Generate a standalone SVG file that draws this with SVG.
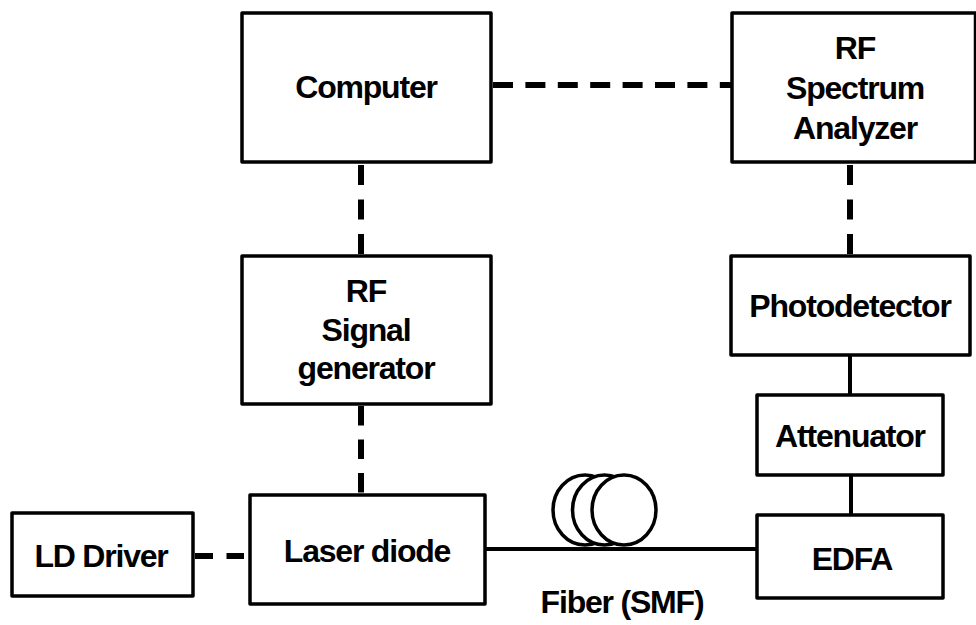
<svg xmlns="http://www.w3.org/2000/svg" width="976" height="625" viewBox="0 0 976 625">
<style>
.box{fill:#fff;stroke:#000;stroke-width:3.5;stroke-linejoin:round}
.lbl{font-family:"Liberation Sans",Arial,sans-serif;font-weight:bold;font-size:32px;letter-spacing:-1.2px;fill:#000;text-anchor:middle}
.dash{stroke:#000;stroke-width:6;fill:none}
.solid{stroke:#000;stroke-width:4;fill:none}
.coil{fill:#fff;stroke:#000;stroke-width:3.5}
</style>
<rect width="976" height="625" fill="#fff"/>
<g id="connectors">
<line class="dash" x1="493" y1="85" x2="738" y2="85" stroke-dasharray="20 12.4" stroke-width="7"/>
<line class="dash" x1="361" y1="165" x2="361" y2="255" stroke-dasharray="20 14.5"/>
<line class="dash" x1="850" y1="165" x2="850" y2="255" stroke-dasharray="20 14.5"/>
<line class="dash" x1="361" y1="406" x2="361" y2="494" stroke-dasharray="19.5 14"/>
<line class="dash" x1="195" y1="556" x2="244" y2="556" stroke-dasharray="18 13.5" stroke-width="7"/>
<line class="solid" x1="850" y1="356" x2="850" y2="394"/>
<line class="solid" x1="851" y1="476" x2="851" y2="514"/>
<line class="solid" x1="486" y1="549" x2="756" y2="549"/>
</g>
<g id="fiber">
<ellipse class="coil" cx="585" cy="510" rx="32" ry="35"/>
<ellipse class="coil" cx="604.5" cy="510" rx="32" ry="35"/>
<ellipse class="coil" cx="624" cy="510" rx="32" ry="35"/>
<text class="lbl" x="622" y="613">Fiber (SMF)</text>
</g>
<g id="computer">
<rect class="box" x="242" y="13" width="249" height="149"/>
<text class="lbl" x="366" y="98">Computer</text>
</g>
<g id="spectrum-analyzer">
<rect class="box" x="732" y="13" width="243.5" height="149"/>
<text class="lbl" x="855" y="59">RF</text>
<text class="lbl" x="855" y="99">Spectrum</text>
<text class="lbl" x="855" y="139">Analyzer</text>
</g>
<g id="signal-generator">
<rect class="box" x="242" y="256" width="249" height="148"/>
<text class="lbl" x="366" y="302">RF</text>
<text class="lbl" x="366" y="341">Signal</text>
<text class="lbl" x="366" y="379">generator</text>
</g>
<g id="photodetector">
<rect class="box" x="731" y="256" width="239" height="99"/>
<text class="lbl" x="850" y="317">Photodetector</text>
</g>
<g id="attenuator">
<rect class="box" x="757" y="395" width="186" height="80"/>
<text class="lbl" x="850" y="447">Attenuator</text>
</g>
<g id="edfa">
<rect class="box" x="757" y="515" width="186" height="83"/>
<text class="lbl" x="852" y="570">EDFA</text>
</g>
<g id="laser-diode">
<rect class="box" x="250" y="495" width="235" height="109"/>
<text class="lbl" x="367" y="562">Laser diode</text>
</g>
<g id="ld-driver">
<rect class="box" x="12" y="513" width="181" height="83"/>
<text class="lbl" x="101" y="567">LD Driver</text>
</g>
</svg>
